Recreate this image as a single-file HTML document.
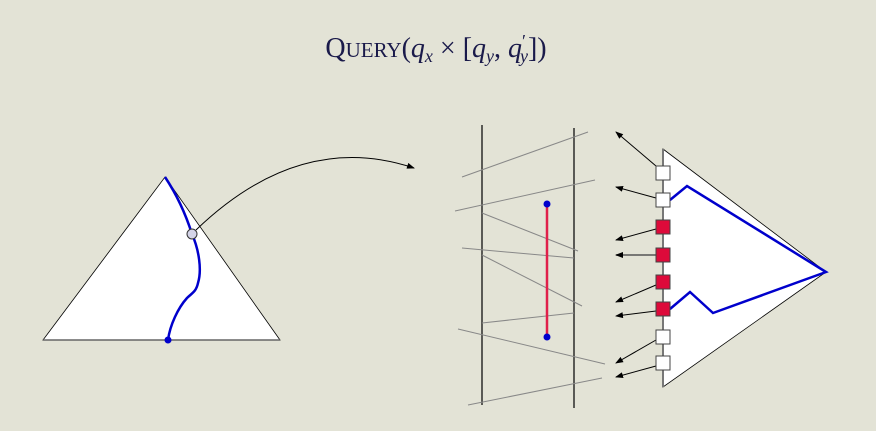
<!DOCTYPE html>
<html><head><meta charset="utf-8"><style>
html,body{margin:0;padding:0;background:#e3e3d6;}
svg{display:block;}
</style></head><body>
<svg width="876" height="431" viewBox="0 0 876 431" xmlns="http://www.w3.org/2000/svg">
<defs>
<marker id="ah" markerWidth="8" markerHeight="6" refX="7" refY="3" orient="auto" markerUnits="userSpaceOnUse">
<path d="M0,0 L8,3 L0,6 Z" fill="#000"/></marker>
</defs>
<rect width="876" height="431" fill="#e3e3d6"/>
<text x="436" y="57" text-anchor="middle" font-family="Liberation Serif, serif" font-size="28" fill="#1a1a4a">Q<tspan font-size="21">UERY</tspan>(<tspan font-style="italic">q</tspan><tspan font-style="italic" font-size="18" dy="5">x</tspan><tspan dy="-5"> × [</tspan><tspan font-style="italic">q</tspan><tspan font-style="italic" font-size="18" dy="5">y</tspan><tspan dy="-5">, </tspan><tspan font-style="italic">q</tspan><tspan font-size="18" dy="-10">′</tspan><tspan font-style="italic" font-size="18" dx="-6" dy="15">y</tspan><tspan dy="-5">])</tspan></text>

<!-- left triangle -->
<polygon points="43,340 165,177 280,340" fill="#fff" stroke="#000" stroke-width="0.8"/>
<line x1="43" y1="340" x2="280" y2="340" stroke="#666" stroke-width="1.5"/>
<path d="M165,177 C175,192 185,212 192,234 C199,250 202,270 198,283 C196,292 192,293 187,298 C178,308 170,325 168,340" fill="none" stroke="#0000cc" stroke-width="2.5"/>
<circle cx="168" cy="340" r="3.5" fill="#0000cc"/>
<path d="M196,230 Q300,130 414,168" fill="none" stroke="#000" stroke-width="1" marker-end="url(#ah)"/>
<circle cx="192" cy="234" r="5" fill="#d4d4e8" stroke="#333" stroke-width="1"/>

<!-- slab -->
<line x1="482" y1="125" x2="482" y2="405" stroke="#000" stroke-width="1.2"/>
<line x1="574" y1="128" x2="574" y2="408" stroke="#000" stroke-width="1.2"/>
<g stroke="#888" stroke-width="1">
<line x1="462" y1="177" x2="588" y2="132"/>
<line x1="455" y1="211" x2="595" y2="180"/>
<line x1="482" y1="213" x2="578" y2="251"/>
<line x1="462" y1="248" x2="574" y2="258"/>
<line x1="482" y1="255" x2="582" y2="306"/>
<line x1="482" y1="323" x2="574" y2="313"/>
<line x1="458" y1="329" x2="605" y2="364"/>
<line x1="468" y1="405" x2="602" y2="378"/>
</g>
<line x1="547" y1="204" x2="547" y2="337" stroke="#e0204a" stroke-width="2.5"/>
<circle cx="547" cy="204" r="3.5" fill="#0000cc"/>
<circle cx="547" cy="337" r="3.5" fill="#0000cc"/>

<!-- right tree -->
<polygon points="663,149 826,272 663,387" fill="#fff" stroke="#000" stroke-width="0.8"/>
<line x1="663" y1="149" x2="663" y2="387" stroke="#777" stroke-width="2"/>
<polyline points="670,200 687,186 826,272 713,313 690,292 670,309" fill="none" stroke="#0000cc" stroke-width="2.5"/>
<g stroke="#000" stroke-width="1" marker-end="url(#ah)">
<line x1="656" y1="166" x2="616" y2="132"/>
<line x1="656" y1="198" x2="616" y2="187"/>
<line x1="656" y1="229" x2="616" y2="240"/>
<line x1="656" y1="255" x2="616" y2="255" stroke="#555" stroke-width="1.5"/>
<line x1="656" y1="285" x2="616" y2="302"/>
<line x1="656" y1="311" x2="616" y2="316"/>
<line x1="656" y1="340" x2="616" y2="363"/>
<line x1="656" y1="366" x2="616" y2="377"/>
</g>
<g stroke="#444" stroke-width="1">
<rect x="656" y="166" width="14" height="14" fill="#fff"/>
<rect x="656" y="193" width="14" height="14" fill="#fff"/>
<rect x="656" y="220" width="14" height="14" fill="#dd0a3a"/>
<rect x="656" y="248" width="14" height="14" fill="#dd0a3a"/>
<rect x="656" y="275" width="14" height="14" fill="#dd0a3a"/>
<rect x="656" y="302" width="14" height="14" fill="#dd0a3a"/>
<rect x="656" y="330" width="14" height="14" fill="#fff"/>
<rect x="656" y="356" width="14" height="14" fill="#fff"/>
</g>
</svg>
</body></html>
